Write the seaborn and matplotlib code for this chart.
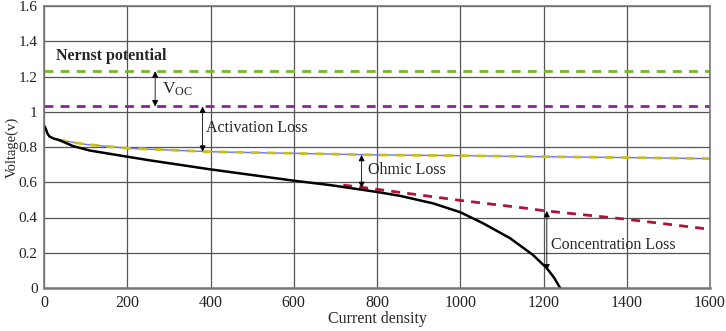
import matplotlib
matplotlib.use("Agg")
import matplotlib.pyplot as plt
import seaborn as sns
import pandas as pd

# ---- data ----
nernst_x = [0, 1600]
nernst_y = [1.23, 1.23]
voc_x = [0, 1600]
voc_y = [1.03, 1.03]
act_x = [34, 100, 200, 400, 600, 800, 1000, 1200, 1400, 1600]
act_y = [0.84, 0.815, 0.793, 0.773, 0.764, 0.755, 0.751, 0.745, 0.740, 0.734]
ohm_x = [719, 800, 1000, 1160, 1200, 1400, 1600]
ohm_y = [0.584, 0.560, 0.497, 0.452, 0.439, 0.390, 0.333]
cell_x = [0, 4, 8, 13, 22, 38, 70, 110, 200, 255, 400, 600, 687, 800, 855, 935,
          1000, 1055, 1120, 1175, 1208, 1225, 1240]
cell_y = [0.922, 0.905, 0.878, 0.860, 0.849, 0.838, 0.805, 0.780, 0.745, 0.724,
          0.673, 0.609, 0.584, 0.545, 0.523, 0.480, 0.430, 0.367, 0.282, 0.187,
          0.112, 0.060, 0.0]
x_ticks = [0, 200, 400, 600, 800, 1000, 1200, 1400, 1600]
y_ticks = [0, 0.2, 0.4, 0.6, 0.8, 1.0, 1.2, 1.4, 1.6]
y_tick_labels = ["0", "0.2", "0.4", "0.6", "0.8", "1", "1.2", "1.4", "1.6"]

sns.set_style("white")
plt.rcParams['font.family'] = ['Liberation Serif', 'DejaVu Serif']
plt.rcParams['mathtext.fontset'] = 'custom'
plt.rcParams['mathtext.rm'] = 'Liberation Serif'
plt.rcParams['mathtext.it'] = 'Liberation Serif'

fig = plt.figure(figsize=(7.26, 3.31), dpi=100)
ax = fig.add_axes([44/726, 1-288/331, 666/726, 282/331])

sns.lineplot(x=nernst_x, y=nernst_y, ax=ax, color='#78b52a', lw=2)
ax.lines[-1].set_dashes([3.2, 2.6])
sns.lineplot(x=voc_x, y=voc_y, ax=ax, color='#8a2495', lw=2)
ax.lines[-1].set_dashes([3.2, 2.6])
sns.lineplot(x=act_x, y=act_y, ax=ax, color='#7070ff', lw=1.0)
sns.lineplot(x=act_x, y=act_y, ax=ax, color='#c8bf1e', lw=2)
ax.lines[-1].set_dashes([3.2, 2.6])
sns.lineplot(x=ohm_x, y=ohm_y, ax=ax, color='#b0123a', lw=2)
ax.lines[-1].set_dashes([3.2, 2.6])
sns.lineplot(x=cell_x, y=cell_y, ax=ax, color='black', lw=1.8)

ax.set_xlim(0, 1600)
ax.set_ylim(0, 1.6)
ax.set_xticks(x_ticks)
ax.set_xticklabels([str(t) for t in x_ticks])
ax.set_yticks(y_ticks)
ax.set_yticklabels(y_tick_labels)
ax.tick_params(length=0, colors='#222')
ax.tick_params(axis='y', pad=4.5, labelsize=11)
ax.tick_params(axis='x', pad=5, labelsize=11.5)
ax.grid(True, color='#555555', lw=0.9)
ax.set_axisbelow(True)
for s in ax.spines.values():
    s.set_color('#777777')
    s.set_linewidth(1.2)
ax.spines['bottom'].set_linewidth(1.8)
ax.set_xlabel("Current density", fontsize=11.5, labelpad=0)
ax.set_ylabel("Voltage(v)", fontsize=10.5)
ax.yaxis.set_label_coords(-0.038, 0.5)

# annotations
ap = dict(arrowstyle='<|-|>', color='black', lw=0.6, shrinkA=0, shrinkB=0,
          mutation_scale=9)
ax.annotate('', xy=(267, 1.23), xytext=(267, 1.03), arrowprops=ap)
ax.annotate('', xy=(381, 1.03), xytext=(381, 0.773), arrowprops=ap)
ax.annotate('', xy=(763, 0.755), xytext=(763, 0.567), arrowprops=ap)
ax.annotate('', xy=(1208, 0.437), xytext=(1208, 0.10), arrowprops=ap)

ax.text(28, 1.315, "Nernst potential", fontsize=11.5, fontweight='bold', va='center')
ax.text(283, 1.13, r"$\mathrm{V_{OC}}$", fontsize=12.5, va='center')
ax.text(390, 0.905, "Activation Loss", fontsize=11.5, va='center')
ax.text(778, 0.672, "Ohmic Loss", fontsize=11.5, va='center')
ax.text(1218, 0.245, "Concentration Loss", fontsize=11.5, va='center')

fig.savefig("out.png", dpi=100)
